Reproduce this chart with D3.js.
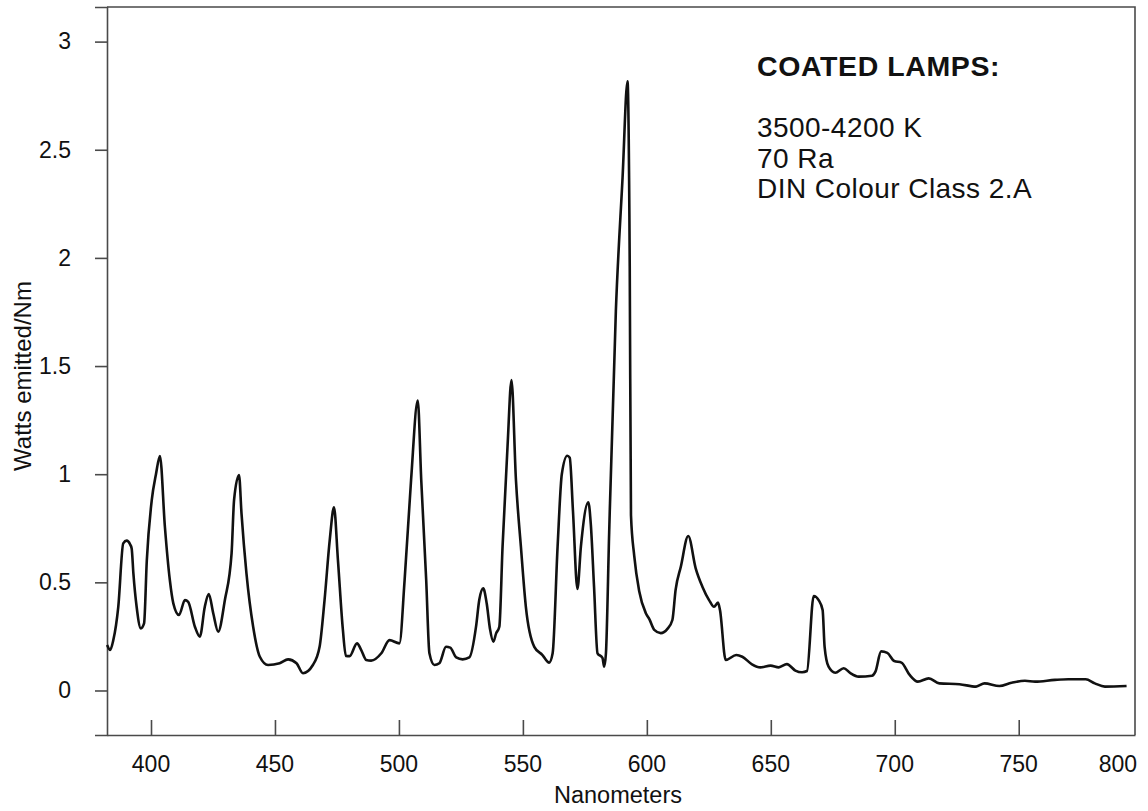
<!DOCTYPE html>
<html>
<head>
<meta charset="utf-8">
<script src="https://cdn.jsdelivr.net/npm/d3@7"></script>
<style>
  html, body { margin: 0; padding: 0; background: #fff; }
  svg { display: block; }
  text { font-family: "Liberation Sans", Arial, Helvetica, sans-serif; fill: #111; }
</style>
</head>
<body>
<svg id="chart" width="1148" height="811"></svg>
<script>
// ---- data ----
const wavelengths = [
  382.3, 383.5, 384.8, 386.8, 388.8, 390.2, 391.6, 392.2, 392.9, 394.2, 395.9, 397.2, 398.3,
  400.3, 402.0, 403.6, 405.6, 407.6, 409.0, 411.3, 413.7, 415.0, 417.7, 419.7, 421.7, 423.3,
  425.1, 427.1, 429.8, 432.5, 433.5, 435.5, 436.5, 438.5, 441.2, 443.9, 447.2, 451.9, 455.3,
  458.7, 461.3, 465.3, 468.0, 470.0, 472.1, 473.8, 475.4, 477.4, 478.6, 480.1, 483.1, 484.8,
  486.8, 488.8, 492.9, 496.2, 500.2, 502.3, 504.9, 507.6, 509.0, 511.0, 512.3, 514.3, 516.3,
  519.0, 520.7, 523.1, 525.7, 528.4, 531.1, 532.4, 534.0, 535.4, 536.7, 538.1, 539.2, 540.5,
  541.8, 543.8, 545.4, 547.2, 549.2, 551.2, 554.6, 557.9, 560.6, 562.0, 564.0, 565.7, 567.9,
  568.9, 570.2, 572.0, 573.4, 576.4, 577.4, 578.7, 580.1, 582.1, 582.8, 583.5, 584.8, 587.5,
  590.2, 592.2, 593.1, 593.6, 594.9, 596.9, 599.6, 601.0, 603.0, 605.6, 608.3, 610.3, 611.6,
  613.7, 616.7, 619.7, 622.4, 625.1, 627.1, 628.7, 629.5, 631.8, 636.1, 638.5, 642.4, 645.8,
  649.9, 653.2, 656.5, 659.9, 662.6, 664.6, 667.3, 669.3, 670.9, 671.7, 673.3, 676.0, 679.4,
  682.1, 685.4, 690.8, 692.2, 694.5, 697.0, 699.8, 702.7, 706.0, 709.3, 713.7, 718.0, 726.1,
  732.8, 736.2, 742.2, 747.1, 752.5, 756.6, 764.6, 770.0, 777.0, 780.7, 784.8, 793.5
];
const wattsEmitted = [
  0.21, 0.187, 0.233, 0.387, 0.68, 0.693, 0.675, 0.657, 0.54, 0.387, 0.287, 0.31, 0.60,
  0.88, 1.00, 1.084, 0.757, 0.51, 0.403, 0.349, 0.418, 0.41, 0.295, 0.249, 0.387, 0.446,
  0.357, 0.272, 0.418, 0.634, 0.88, 0.996, 0.819, 0.542, 0.295, 0.156, 0.118, 0.126, 0.144,
  0.126, 0.08, 0.118, 0.202, 0.418, 0.696, 0.847, 0.603, 0.28, 0.16, 0.159, 0.218, 0.187,
  0.141, 0.138, 0.172, 0.233, 0.218, 0.511, 0.973, 1.34, 0.973, 0.511, 0.172, 0.118, 0.126,
  0.202, 0.198, 0.153, 0.144, 0.153, 0.295, 0.418, 0.472, 0.403, 0.287, 0.226, 0.264, 0.295,
  0.665, 1.127, 1.435, 0.973, 0.665, 0.387, 0.202, 0.164, 0.129, 0.172, 0.665, 1.0, 1.085,
  1.076, 0.83, 0.47, 0.665, 0.87, 0.768, 0.48, 0.172, 0.151, 0.11, 0.172, 0.728, 1.754,
  2.37, 2.816, 1.96, 0.81, 0.624, 0.46, 0.357, 0.33, 0.28, 0.265, 0.285, 0.326, 0.465,
  0.572, 0.714, 0.565, 0.48, 0.418, 0.387, 0.406, 0.372, 0.141, 0.164, 0.156, 0.121, 0.107,
  0.115, 0.107, 0.122, 0.092, 0.084, 0.09, 0.437, 0.418, 0.372, 0.202, 0.11, 0.082, 0.103,
  0.08, 0.064, 0.068, 0.087, 0.181, 0.174, 0.136, 0.129, 0.072, 0.041, 0.056, 0.033, 0.029,
  0.018, 0.033, 0.021, 0.036, 0.045, 0.041, 0.049, 0.052, 0.052, 0.033, 0.018, 0.021
];
const xTickValues = [400, 450, 500, 550, 600, 650, 700, 750, 800];
const yTickValues = [0, 0.5, 1, 1.5, 2, 2.5, 3];
const xTitle = "Nanometers";
const yTitle = "Watts emitted/Nm";
const noteTitle = "COATED LAMPS:";
const noteLines = ["3500-4200 K", "70 Ra", "DIN Colour Class 2.A"];

// ---- layout ----
const svg = d3.select("#chart");
const plotL = 107, plotR = 1135, plotT = 7, plotB = 735;
const x = d3.scaleLinear().domain([382.25, 796.9]).range([plotL, plotR]);
const y = d3.scaleLinear().domain([-0.2058, 3.160]).range([plotB, plotT]);
const axisColor = "#4a4a4a";

// frame (top and right borders)
svg.append("path")
  .attr("d", `M${plotL},${plotT}H${plotR}V${plotB}`)
  .attr("fill", "none").attr("stroke", axisColor).attr("stroke-width", 1.6);

// y axis (ticks outward)
const yAxis = svg.append("g").attr("transform", `translate(${plotL},0)`)
  .call(d3.axisLeft(y).tickValues(yTickValues).tickSize(12).tickPadding(24)
        .tickFormat(d3.format("")));
yAxis.select(".domain").attr("stroke", axisColor).attr("stroke-width", 1.6);
yAxis.selectAll(".tick line").attr("stroke", axisColor).attr("stroke-width", 1.6);
yAxis.selectAll(".tick text").style("font-size", "23px").attr("fill", "#111")
  .style("font-family", '"Liberation Sans", Arial, sans-serif');

// x axis (ticks inward); the 800 label sits at the right end, clamped
const inRange = xTickValues.filter(v => x(v) <= plotR);
const xAxis = svg.append("g").attr("transform", `translate(0,${plotB})`)
  .call(d3.axisBottom(x).tickValues(inRange).tickSizeInner(-15).tickSizeOuter(0)
        .tickFormat(() => ""));
xAxis.select(".domain").attr("stroke", axisColor).attr("stroke-width", 1.6);
xAxis.selectAll(".tick line").attr("stroke", axisColor).attr("stroke-width", 1.6);

svg.append("g").selectAll("text").data(xTickValues).join("text")
  .attr("x", d => x(d) > plotR ? plotR + 2 : x(d))
  .attr("y", 772)
  .attr("text-anchor", d => x(d) > plotR ? "end" : "middle")
  .style("font-size", "23px")
  .text(d => d);

// axis titles
svg.append("text").attr("x", 618).attr("y", 803).attr("text-anchor", "middle")
  .style("font-size", "23.5px").text(xTitle);
svg.append("text").attr("transform", "translate(31,376) rotate(-90)")
  .attr("text-anchor", "middle").style("font-size", "24px").text(yTitle);

// spectrum line
const pts = wavelengths.map((w, i) => [w, wattsEmitted[i]]);
svg.append("path")
  .datum(pts)
  .attr("fill", "none")
  .attr("stroke", "#111")
  .attr("stroke-width", 2.6)
  .attr("stroke-linejoin", "round")
  .attr("d", d3.line().x(d => x(d[0])).y(d => y(d[1])).curve(d3.curveMonotoneX));

// annotation
svg.append("text").attr("x", 757).attr("y", 76)
  .style("font-size", "28.5px").style("font-weight", "bold")
  .style("letter-spacing", "0.6px").text(noteTitle);
svg.append("g").selectAll("text").data(noteLines).join("text")
  .attr("x", 757).attr("y", (d, i) => 137 + i * 30.5)
  .style("font-size", "28px").style("letter-spacing", "0.45px").text(d => d);
</script>
</body>
</html>
